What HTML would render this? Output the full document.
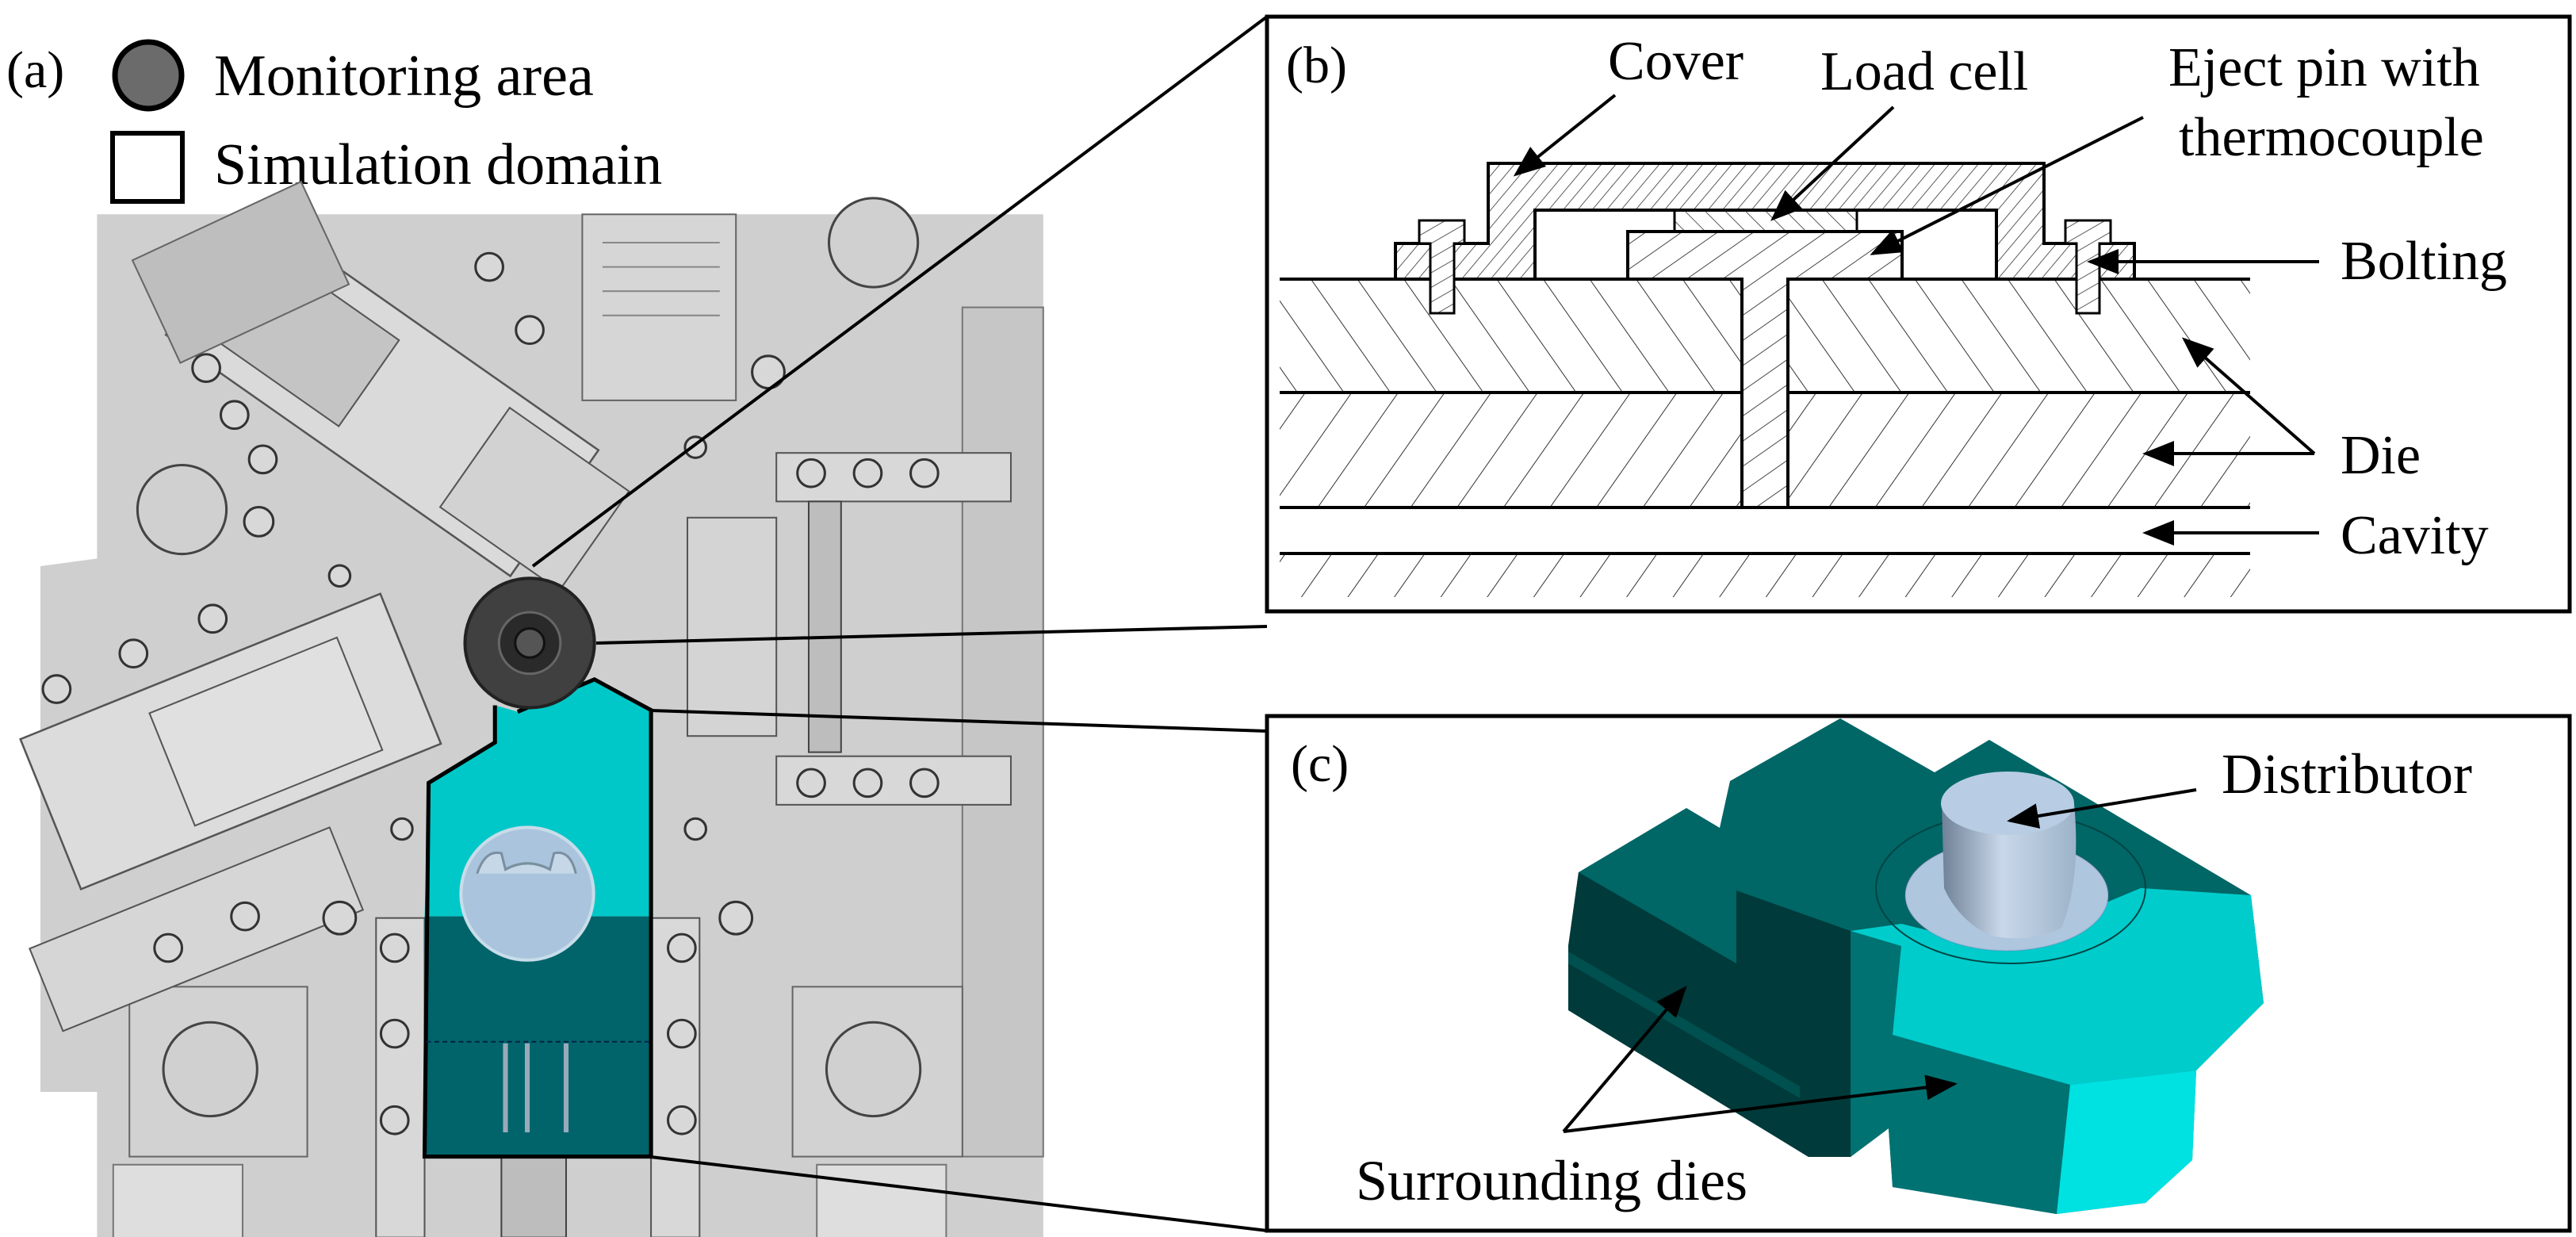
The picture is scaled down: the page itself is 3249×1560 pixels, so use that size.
<!DOCTYPE html>
<html><head><meta charset="utf-8"><style>
html,body{margin:0;padding:0;background:#fff;}
svg{display:block;}
text{font-family:"Liberation Serif",serif;fill:#000;}
</style></head><body>
<svg width="3249" height="1560" viewBox="0 0 3249 1560" xmlns="http://www.w3.org/2000/svg">
<defs>
<pattern id="hA" width="48" height="48" patternUnits="userSpaceOnUse" patternTransform="rotate(-35)"><line x1="0" y1="0" x2="0" y2="48" stroke="#333" stroke-width="2"/></pattern>
<pattern id="hB" width="48" height="48" patternUnits="userSpaceOnUse" patternTransform="rotate(35)"><line x1="0" y1="0" x2="0" y2="48" stroke="#333" stroke-width="2"/></pattern>
<pattern id="hC" width="14" height="14" patternUnits="userSpaceOnUse" patternTransform="rotate(40)"><line x1="0" y1="0" x2="0" y2="14" stroke="#333" stroke-width="1.6"/></pattern>
<pattern id="hD" width="26" height="26" patternUnits="userSpaceOnUse" patternTransform="rotate(55)"><line x1="0" y1="0" x2="0" y2="26" stroke="#333" stroke-width="1.8"/></pattern>
<pattern id="hE" width="18" height="18" patternUnits="userSpaceOnUse" patternTransform="rotate(-45)"><line x1="0" y1="0" x2="0" y2="18" stroke="#333" stroke-width="1.6"/></pattern>
<pattern id="hF" width="16" height="16" patternUnits="userSpaceOnUse" patternTransform="rotate(60)"><line x1="0" y1="0" x2="0" y2="16" stroke="#333" stroke-width="1.6"/></pattern>
<marker id="ar" markerWidth="10" markerHeight="8" refX="9" refY="4" orient="auto" markerUnits="strokeWidth"><path d="M0,0 L10,4 L0,8 z" fill="#000"/></marker>
<linearGradient id="dg" x1="0" y1="0" x2="1" y2="0"><stop offset="0" stop-color="#6f8196"/><stop offset="0.45" stop-color="#c9d8ea"/><stop offset="1" stop-color="#9db3c9"/></linearGradient>
</defs>

<!-- (a) legend -->
<text x="8" y="110" font-size="66">(a)</text>
<circle cx="187" cy="95" r="42" fill="#6b6b6b" stroke="#000" stroke-width="7"/>
<rect x="142" y="168" width="88" height="86" fill="#fff" stroke="#000" stroke-width="6"/>
<text x="270" y="120" font-size="74">Monitoring area</text>
<text x="270" y="232" font-size="74">Simulation domain</text>

<!-- mechanical picture -->
<g transform="scale(1.02)">
<path d="M120,265 L1290,265 L1290,1430 L1290,1530 L120,1530 Z" fill="#cfcfcf"/>
<path d="M50,700 L125,690 L125,1350 L50,1350 Z" fill="#cfcfcf"/>
<rect x="1190" y="380" width="100" height="1050" fill="#c6c6c6" stroke="#777" stroke-width="2"/>
<rect x="720" y="265" width="190" height="230" fill="#d6d6d6" stroke="#666" stroke-width="2"/>
<g stroke="#888" stroke-width="2">
<line x1="745" y1="300" x2="890" y2="300"/><line x1="745" y1="330" x2="890" y2="330"/><line x1="745" y1="360" x2="890" y2="360"/><line x1="745" y1="390" x2="890" y2="390"/></g>
<rect x="960" y="560" width="290" height="60" fill="#d8d8d8" stroke="#555" stroke-width="2"/>
<rect x="960" y="935" width="290" height="60" fill="#d8d8d8" stroke="#555" stroke-width="2"/>
<rect x="850" y="640" width="110" height="270" fill="#d4d4d4" stroke="#555" stroke-width="2"/>
<rect x="1000" y="620" width="40" height="310" fill="#bdbdbd" stroke="#444" stroke-width="2"/>
<rect x="465" y="1135" width="60" height="395" fill="#d8d8d8" stroke="#555" stroke-width="2"/>
<rect x="805" y="1135" width="60" height="395" fill="#d8d8d8" stroke="#555" stroke-width="2"/>
<path d="M980,1220 L1190,1220 L1190,1430 L980,1430 Z" fill="#d2d2d2" stroke="#666" stroke-width="2"/>
<path d="M160,1220 L380,1220 L380,1430 L160,1430 Z" fill="#d2d2d2" stroke="#666" stroke-width="2"/>
<g transform="rotate(35 450 500)"><rect x="200" y="380" width="520" height="190" fill="#dadada" stroke="#555" stroke-width="2.5"/><rect x="240" y="410" width="200" height="130" fill="#c4c4c4" stroke="#555" stroke-width="2"/><rect x="600" y="400" width="180" height="150" fill="#d2d2d2" stroke="#555" stroke-width="2"/></g>
<g transform="rotate(-22 300 900)"><rect x="40" y="810" width="480" height="200" fill="#dcdcdc" stroke="#555" stroke-width="2.5"/><rect x="200" y="840" width="250" height="150" fill="#e0e0e0" stroke="#555" stroke-width="2"/></g>
<g transform="rotate(-22 200 1150)"><rect x="40" y="1110" width="400" height="110" fill="#d6d6d6" stroke="#555" stroke-width="2"/></g>
<rect x="180" y="265" width="230" height="140" fill="#bebebe" stroke="#666" stroke-width="2" transform="rotate(-25 300 330)"/>
<g fill="#d8d8d8" stroke="#333" stroke-width="3">
<circle cx="1003" cy="585" r="17"/><circle cx="1073" cy="585" r="17"/><circle cx="1143" cy="585" r="17"/>
<circle cx="1003" cy="968" r="17"/><circle cx="1073" cy="968" r="17"/><circle cx="1143" cy="968" r="17"/>
<circle cx="488" cy="1172" r="17"/><circle cx="488" cy="1278" r="17"/><circle cx="488" cy="1385" r="17"/>
<circle cx="843" cy="1172" r="17"/><circle cx="843" cy="1278" r="17"/><circle cx="843" cy="1385" r="17"/>
<circle cx="860" cy="1025" r="13"/><circle cx="497" cy="1025" r="13"/><circle cx="860" cy="553" r="13"/><circle cx="420" cy="712" r="13"/>
<circle cx="255" cy="455" r="17"/><circle cx="290" cy="513" r="17"/><circle cx="325" cy="568" r="17"/>
<circle cx="605" cy="330" r="17"/><circle cx="655" cy="408" r="17"/><circle cx="263" cy="765" r="17"/>
<circle cx="165" cy="808" r="17"/><circle cx="70" cy="852" r="17"/><circle cx="303" cy="1133" r="17"/><circle cx="208" cy="1172" r="17"/>
<circle cx="420" cy="1135" r="20"/><circle cx="910" cy="1135" r="20"/><circle cx="950" cy="460" r="20"/><circle cx="320" cy="645" r="18"/>
</g>
<g fill="#d0d0d0" stroke="#444" stroke-width="3">
<circle cx="225" cy="630" r="55"/><circle cx="1080" cy="300" r="55"/><circle cx="260" cy="1322" r="58"/><circle cx="1080" cy="1322" r="58"/>
</g>
<rect x="140" y="1440" width="160" height="95" fill="#dedede" stroke="#777" stroke-width="2"/>
<rect x="1010" y="1440" width="160" height="95" fill="#dedede" stroke="#777" stroke-width="2"/>
<rect x="620" y="1430" width="80" height="100" fill="#bdbdbd" stroke="#444" stroke-width="2"/>
<path d="M612,872 L640,880 L735,840 L805,878 L805,1133 L525,1133 L530,968 L612,918 Z" fill="#00c8c8"/>
<path d="M525,1133 L805,1133 L805,1430 L525,1430 Z" fill="#00646a"/>
<path d="M640,880 L735,840 L805,878 L805,1430 L525,1430 L530,968 L612,918 L612,872" fill="none" stroke="#000" stroke-width="5"/>
<line x1="527" y1="1288" x2="803" y2="1288" stroke="#024" stroke-width="2" stroke-dasharray="6,4"/>
<g stroke="#9ab" stroke-width="6"><line x1="625" y1="1290" x2="625" y2="1400"/><line x1="652" y1="1290" x2="652" y2="1400"/><line x1="700" y1="1290" x2="700" y2="1400"/></g>
<circle cx="652" cy="1105" r="82" fill="#a9c4dc" stroke="#c8dcea" stroke-width="4"/>
<path d="M590,1080 Q600,1050 620,1055 L625,1075 Q652,1060 680,1075 L685,1055 Q705,1050 712,1080" fill="#c6d8e8" stroke="#7a8fa0" stroke-width="3"/>
<circle cx="655" cy="795" r="80" fill="#404040" stroke="#222" stroke-width="4"/>
<circle cx="655" cy="795" r="38" fill="#2a2a2a" stroke="#666" stroke-width="3"/>
<circle cx="655" cy="795" r="18" fill="#555" stroke="#111" stroke-width="3"/>
</g>

<g stroke="#000" stroke-width="4" fill="none">
<line x1="672" y1="714" x2="1598" y2="21"/>
<line x1="752" y1="811" x2="1598" y2="790"/>
<line x1="821" y1="896" x2="1598" y2="922"/>
<line x1="821" y1="1459" x2="1598" y2="1552"/>
</g>

<!-- panel b -->
<rect x="1598" y="21" width="1643" height="750" fill="#fff" stroke="#000" stroke-width="5"/>
<text x="1622" y="104" font-size="66">(b)</text>
<rect x="1614" y="352" width="1224" height="143" fill="url(#hA)"/>
<rect x="1614" y="495" width="1224" height="145" fill="url(#hB)"/>
<rect x="1614" y="698" width="1224" height="55" fill="url(#hB)"/>
<g stroke="#000" stroke-width="4">
<line x1="1614" y1="352" x2="2838" y2="352"/>
<line x1="1614" y1="495" x2="2197" y2="495"/><line x1="2255" y1="495" x2="2838" y2="495"/>
<line x1="1614" y1="640" x2="2838" y2="640"/>
<line x1="1614" y1="698" x2="2838" y2="698"/>
</g>
<path d="M1760,352 L1760,307 L1877,307 L1877,206 L2578,206 L2578,307 L2692,307 L2692,352 L2518,352 L2518,265 L1936,265 L1936,352 Z" fill="url(#hC)" stroke="#000" stroke-width="4"/>
<rect x="1936" y="265" width="582" height="87" fill="#fff" stroke="#000" stroke-width="4"/>
<rect x="2112" y="265" width="230" height="27" fill="url(#hE)" stroke="#000" stroke-width="3"/>
<path d="M2053,292 L2399,292 L2399,352 L2255,352 L2255,640 L2197,640 L2197,352 L2053,352 Z" fill="#fff"/>
<path d="M2053,292 L2399,292 L2399,352 L2255,352 L2255,640 L2197,640 L2197,352 L2053,352 Z" fill="url(#hD)" stroke="#000" stroke-width="4"/>
<path d="M1790,278 L1847,278 L1847,307 L1834,307 L1834,395 L1804,395 L1804,307 L1790,307 Z" fill="#fff"/>
<path d="M1790,278 L1847,278 L1847,307 L1834,307 L1834,395 L1804,395 L1804,307 L1790,307 Z" fill="url(#hF)" stroke="#000" stroke-width="3"/>
<path d="M2605,278 L2662,278 L2662,307 L2648,307 L2648,395 L2619,395 L2619,307 L2605,307 Z" fill="#fff"/>
<path d="M2605,278 L2662,278 L2662,307 L2648,307 L2648,395 L2619,395 L2619,307 L2605,307 Z" fill="url(#hF)" stroke="#000" stroke-width="3"/>
<g font-size="70">
<text x="2028" y="100">Cover</text>
<text x="2296" y="113">Load cell</text>
<text x="2735" y="108">Eject pin with</text>
<text x="2748" y="196">thermocouple</text>
<text x="2952" y="352">Bolting</text>
<text x="2952" y="597">Die</text>
<text x="2952" y="698">Cavity</text>
</g>
<g stroke="#000" stroke-width="4" marker-end="url(#ar)">
<line x1="2037" y1="120" x2="1912" y2="220"/>
<line x1="2388" y1="135" x2="2236" y2="276"/>
<line x1="2703" y1="148" x2="2362" y2="320"/>
<line x1="2925" y1="330" x2="2636" y2="330"/>
<line x1="2919" y1="572" x2="2755" y2="428"/>
<line x1="2919" y1="572" x2="2706" y2="572"/>
<line x1="2925" y1="672" x2="2706" y2="672"/>
</g>

<!-- panel c -->
<rect x="1598" y="903" width="1643" height="649" fill="#fff" stroke="#000" stroke-width="5"/>
<text x="1628" y="985" font-size="66">(c)</text>
<!-- silhouette -->
<path d="M1991,1100 L2127,1019 L2169,1044 L2182,985 L2321,906 L2440,974 L2509,933 L2839,1129 L2855,1265 L2840,1280 L2770,1350 L2765,1463 L2706,1517 L2594,1531 L2387,1497 L2382,1423 L2334,1459 L2281,1459 L1978,1274 L1978,1193 Z" fill="#006666"/>
<!-- dark front face -->
<path d="M1978,1193 L1991,1100 L2190,1215 L2190,1123 L2334,1174 L2334,1459 L2281,1459 L1978,1274 Z" fill="#003a3a"/>
<path d="M1978,1200 L2270,1370 L2270,1385 L1978,1215 Z" fill="#005050"/>
<!-- middle teal front -->
<path d="M2334,1174 L2398,1193 L2387,1305 L2611,1368 L2594,1531 L2387,1497 L2382,1423 L2334,1459 Z" fill="#007272"/>
<!-- cyan top -->
<path d="M2334,1174 L2398,1165 L2520,1195 L2700,1120 L2839,1129 L2855,1265 L2770,1350 L2611,1368 L2387,1305 L2398,1193 Z" fill="#00cccc"/>
<!-- cyan light front -->
<path d="M2611,1368 L2770,1350 L2765,1463 L2706,1517 L2594,1531 Z" fill="#00e2e2"/>
<!-- distributor -->
<ellipse cx="2536" cy="1120" rx="170" ry="95" fill="none" stroke="#044" stroke-width="2"/>
<ellipse cx="2531" cy="1129" rx="128" ry="70" fill="#aec6de" stroke="#86a" stroke-opacity="0.2" stroke-width="2"/>
<path d="M2449,1013 L2616,1013 Q2625,1110 2600,1170 Q2560,1190 2510,1180 Q2470,1160 2452,1120 Z" fill="url(#dg)"/>
<ellipse cx="2532" cy="1013" rx="84" ry="40" fill="#b8cde3"/>
<text x="2802" y="1000" font-size="72">Distributor</text>
<text x="1710" y="1513" font-size="72">Surrounding dies</text>
<g stroke="#000" stroke-width="4" marker-end="url(#ar)">
<line x1="2770" y1="996" x2="2535" y2="1035"/>
<line x1="1972" y1="1427" x2="2125" y2="1246"/>
<line x1="1972" y1="1427" x2="2465" y2="1367"/>
</g>
</svg>
</body></html>
